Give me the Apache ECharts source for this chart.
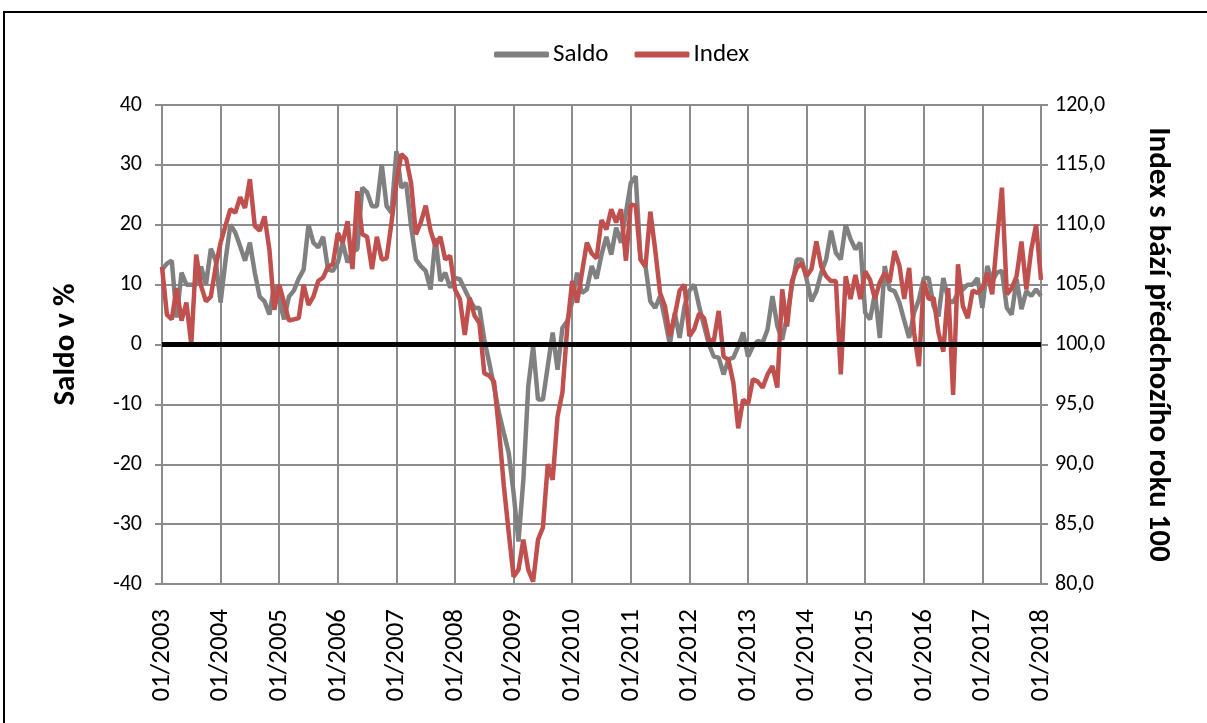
<!DOCTYPE html>
<html>
<head>
<meta charset="utf-8">
<script src="https://cdn.jsdelivr.net/npm/echarts@6/dist/echarts.min.js"></script>
<style>
  html, body { margin: 0; padding: 0; background: #fff; }
  #frame { position: absolute; left: 3px; top: 11px; width: 1220px; height: 730px; border: 2px solid #000; box-sizing: border-box; pointer-events: none; }
  #chart { width: 1207px; height: 723px; }
</style>
</head>
<body>
<div id="chart"></div>
<div id="frame"></div>
<script>
// monthly points 01/2003 .. 01/2018
const startYear = 2003
const endYear = 2018

const saldo = [
  12.5, 13.5, 14, 4.5, 12, 10, 10, 10, 13, 10, 16, 14,
  7, 14, 20, 18.7, 16.4, 14, 17, 12, 8, 7.2, 5, 10,
  7.5, 4.2, 8, 9, 11, 12.5, 20, 17, 16.2, 18, 12.5, 12.3,
  13.7, 17, 13.7, 15.5, 15.9, 26.2, 25.4, 23.1, 23.1, 30.1, 23.1, 22,
  32.3, 26.2, 27, 19.8, 14.2, 13.1, 12.3, 9.2, 17.8, 10.6, 12, 9.5,
  11.1, 10.9, 9.2, 7.5, 6.1, 6.1, 0.8, -3, -7, -11.4, -14.8, -18.1,
  -24.8, -32.9, -22.6, -7, -0.3, -9.2, -9.2, -3.6, 2, -4.2, 2.8, 3.9,
  7.2, 12, 8.6, 9.2, 13.1, 11, 15, 18, 15, 19.5, 17, 22,
  27, 28.1, 14.2, 13.1, 7.2, 6.1, 8.1, 4.2, 0, 5.3, 1.1, 6.4,
  9, 10, 6.4, 3.1, 0, -2, -2.2, -5, -2.5, -2.2, -0.3, 2,
  -2, -0.3, 0.6, 0.3, 2.5, 8.1, 3.1, 0.8, 4.7, 9.8, 14.2, 14.2,
  10.9, 7.2, 8.9, 12, 14.2, 19, 15.3, 14.2, 20, 17.6, 15.9, 17,
  5.3, 4.2, 8.6, 1.1, 13.1, 9.2, 8.9, 7, 4, 1.1, 5.3, 7.5,
  11.1, 11.1, 6.4, 4.7, 11.1, 7.5, 7, 8.6, 9.2, 10, 10, 11.1,
  6.1, 13.1, 10.6, 12, 12.3, 6.1, 5, 10.9, 5.9, 8.9, 8.1, 9.2,
  8.1
]

const index = [
  106.5, 102.5, 102.1, 104.7, 102, 103.5, 100, 107.5, 104.9, 103.6, 104, 106.5,
  108.5, 109.9, 111.3, 111, 112.3, 111.4, 113.8, 109.9, 109.5, 110.7, 107.9, 102.9,
  105, 103.5, 102, 102.1, 102.2, 105, 103.3, 104, 105.3, 105.6, 106.5, 106.7,
  109.3, 108.5, 110.3, 106.3, 112.8, 109.2, 109, 106.3, 109, 107.1, 107.2, 110.2,
  113.5, 115.9, 115.5, 113.5, 109.2, 110.2, 111.6, 109.5, 108.2, 109, 107.1, 107.4,
  104.6, 103.8, 100.8, 103.9, 102.4, 101.8, 97.6, 97.4, 96.9, 92.9, 88.2, 84.3,
  80.6, 81.2, 83.7, 81.2, 80.2, 83.7, 84.7, 90, 88.7, 94, 96, 101.5,
  105.3, 103.5, 106, 108.5, 107.6, 107.2, 110.4, 109.6, 111.3, 110.2, 111.3, 107,
  111.7, 111.6, 107.1, 106.5, 111.1, 107.9, 104.3, 103.2, 100.7, 102.4, 104.5, 105,
  100.7, 101.3, 102.6, 102.2, 100.4, 100.3, 102.8, 99, 98.7, 96.8, 93, 95.4,
  95, 97.1, 96.9, 96.4, 97.5, 98.2, 96.4, 104.6, 101.5, 105.3, 106.4, 106.8,
  105.7, 106.3, 108.6, 106.5, 105.7, 105.3, 105.3, 97.5, 105.7, 103.8, 105.8, 103.8,
  106.1, 105.4, 103.8, 105.2, 106, 105.2, 107.8, 106.6, 103.8, 106.4, 101, 98.2,
  105.3, 103.8, 103.9, 101, 99.4, 104.7, 95.8, 106.7, 103.2, 102.2, 104.5, 104.3,
  104.7, 106, 104.2, 108.8, 113.1, 104.2, 104.7, 105.7, 108.6, 104.6, 107.9, 110,
  105.4
]

const months = []
for (let y = startYear; y <= endYear; y++) {
  for (let m = 1; m <= 12; m++) {
    if (y === endYear && m > 1) break
    months.push(String(m).padStart(2, '0') + '/' + y)
  }
}

const font = 'Carlito, Lato, "Liberation Sans", sans-serif'
const gridColor = '#8c8c8c'

const chart = echarts.init(document.getElementById('chart'))
chart.setOption({
  animation: false,
  textStyle: { fontFamily: font },
  legend: {
    top: 37, left: 489, icon: 'roundRect', itemWidth: 55, itemHeight: 6, itemGap: 26,
    textStyle: { fontSize: 25, color: '#000', fontFamily: font, padding: [0, 0, 0, -1] },
    data: ['Saldo', 'Index']
  },
  grid: { left: 162, right: 166, top: 105, bottom: 139 },
  xAxis: {
    type: 'category', data: months, boundaryGap: false,
    axisLine: { lineStyle: { color: gridColor, width: 2 } },
    axisTick: { interval: 11, length: 6, lineStyle: { color: gridColor, width: 2 } },
    axisLabel: { interval: 11, rotate: 90, margin: 25, fontSize: 27, color: '#000', fontFamily: font },
    splitLine: { show: true, interval: 11, lineStyle: { color: gridColor, width: 2 } }
  },
  yAxis: [
    {
      type: 'value', min: -40, max: 40, interval: 10,
      name: 'Saldo v %', nameLocation: 'middle', nameGap: 80, nameRotate: 90,
      nameTextStyle: { fontSize: 31, fontWeight: 'bold', color: '#000', fontFamily: font },
      axisLine: { show: true, lineStyle: { color: gridColor, width: 2 } },
      axisTick: { show: true, length: 7, lineStyle: { color: gridColor, width: 2 } },
      axisLabel: { fontSize: 22, color: '#000', margin: 20, fontFamily: font },
      splitLine: { show: true, lineStyle: { color: gridColor, width: 2 } }
    },
    {
      type: 'value', min: 80, max: 120, interval: 5,
      name: 'Index s bází předchozího roku 100', nameLocation: 'middle', nameGap: 101, nameRotate: -90,
      nameTextStyle: { fontSize: 31, fontWeight: 'bold', color: '#000', fontFamily: font },
      axisLine: { show: true, lineStyle: { color: gridColor, width: 2 } },
      axisTick: { show: true, length: 7, lineStyle: { color: gridColor, width: 2 } },
      axisLabel: { fontSize: 22, color: '#000', margin: 14, fontFamily: font,
        formatter: (v) => v.toFixed(1).replace('.', ',') },
      splitLine: { show: false }
    }
  ],
  series: [
    {
      name: 'Saldo', type: 'line', yAxisIndex: 0, data: saldo, showSymbol: false,
      lineStyle: { color: '#808080', width: 4.5 }, itemStyle: { color: '#808080' },
      markLine: {
        silent: true, symbol: 'none', label: { show: false },
        lineStyle: { color: '#000', width: 5, type: 'solid' },
        data: [{ yAxis: 0 }]
      }
    },
    {
      name: 'Index', type: 'line', yAxisIndex: 1, data: index, showSymbol: false,
      lineStyle: { color: '#c0504d', width: 4.5 }, itemStyle: { color: '#c0504d' }
    }
  ]
})
</script>
</body>
</html>
